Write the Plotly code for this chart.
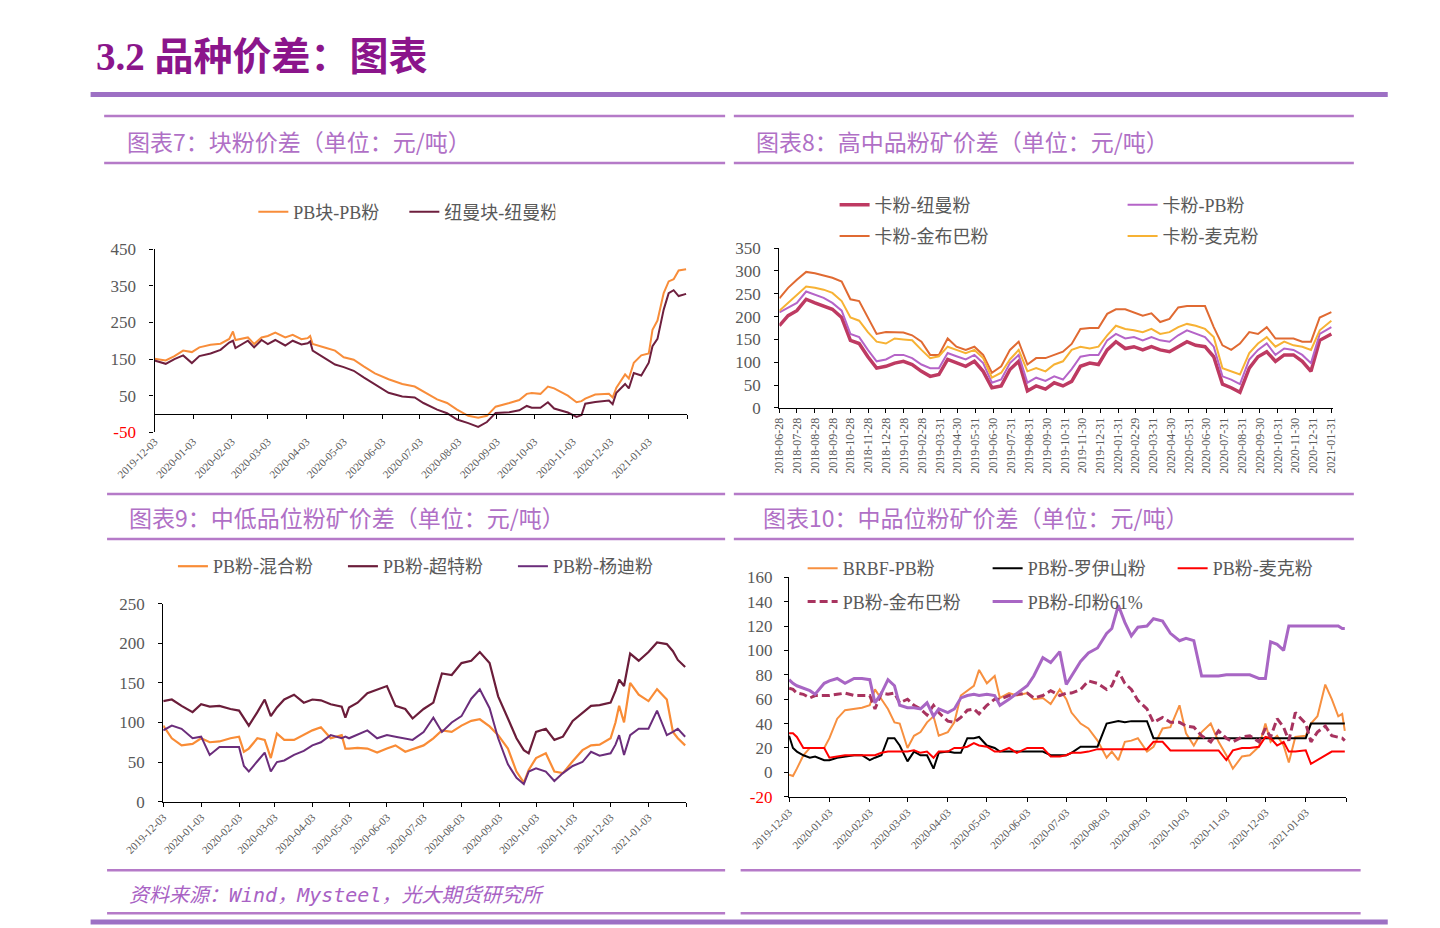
import plotly.graph_objects as go

W, H = 1440, 928


def px(x):
    return x / W


def py(y):
    return 1 - y / H


FONT = "Liberation Serif, Noto Sans CJK SC, serif"
CJK = "Noto Sans CJK SC, sans-serif"
GRAY = "#595959"

# ---------------- Chart 7 : 块粉价差 ----------------
c7_dates = ["2019-12-03", "2019-12-12", "2019-12-19", "2019-12-26", "2020-01-02", "2020-01-08", "2020-01-17",
            "2020-01-25", "2020-02-01", "2020-02-04", "2020-02-06", "2020-02-16", "2020-02-21", "2020-02-27",
            "2020-03-03", "2020-03-09", "2020-03-17", "2020-03-23", "2020-03-30", "2020-04-04", "2020-04-06",
            "2020-04-08", "2020-04-19", "2020-04-26", "2020-05-03", "2020-05-11", "2020-05-19", "2020-05-28",
            "2020-06-08", "2020-06-19", "2020-06-29", "2020-07-06", "2020-07-17", "2020-07-25", "2020-08-02",
            "2020-08-11", "2020-08-19", "2020-08-26", "2020-09-02", "2020-09-13", "2020-09-21", "2020-09-27",
            "2020-10-01", "2020-10-08", "2020-10-14", "2020-10-19", "2020-10-30", "2020-11-06", "2020-11-10",
            "2020-11-13", "2020-11-21", "2020-12-02", "2020-12-05", "2020-12-08", "2020-12-15", "2020-12-18",
            "2020-12-22", "2020-12-28", "2021-01-03", "2021-01-06", "2021-01-10", "2021-01-15", "2021-01-19",
            "2021-01-23", "2021-01-27", "2021-02-02"]
c7_pb_lump = [151, 146, 158, 173, 169, 182, 189, 192, 205, 225, 202, 209, 191, 209, 213, 222, 209, 216, 204, 207,
              213, 191, 180, 173, 155, 148, 130, 111, 95, 82, 75, 62, 40, 30, 12, -5, -10, -5, 20, 30,
              38, 55, 57, 55, 75, 70, 50, 32, 35, 42, 53, 55, 45, 72, 108, 97, 140, 160, 165, 230,
              255, 330, 362, 368, 392, 395]
c7_newman = [146, 137, 150, 160, 139, 158, 165, 175, 195, 200, 180, 200, 182, 202, 191, 202, 187, 200, 190, 193,
             198, 173, 150, 135, 128, 118, 100, 82, 58, 48, 45, 30, 12, 2, -15, -25, -35, -22, 3, 5,
             10, 22, 17, 17, 32, 15, 4, -8, -3, 28, 33, 37, 27, 58, 82, 70, 112, 105, 140, 185,
             205, 285, 330, 338, 322, 328]

# ---------------- Chart 8 : 高中品粉矿价差 ----------------
c8_dates = ["2018-06-28", "2018-07-13", "2018-07-28", "2018-08-13", "2018-08-28", "2018-09-12", "2018-09-27",
            "2018-10-13", "2018-10-28", "2018-11-12", "2018-11-27", "2018-12-12", "2018-12-28", "2019-01-12",
            "2019-01-27", "2019-02-11", "2019-02-27", "2019-03-14", "2019-03-29", "2019-04-13", "2019-04-28",
            "2019-05-14", "2019-05-29", "2019-06-13", "2019-06-28", "2019-07-14", "2019-07-29", "2019-08-13",
            "2019-08-28", "2019-09-12", "2019-09-28", "2019-10-13", "2019-10-28", "2019-11-12", "2019-11-27",
            "2019-12-13", "2019-12-28", "2020-01-12", "2020-01-27", "2020-02-12", "2020-02-27", "2020-03-13",
            "2020-03-28", "2020-04-12", "2020-04-28", "2020-05-13", "2020-05-28", "2020-06-12", "2020-06-28",
            "2020-07-13", "2020-07-28", "2020-08-12", "2020-08-27", "2020-09-12", "2020-09-27", "2020-10-12",
            "2020-10-27", "2020-11-11", "2020-11-27", "2020-12-12", "2020-12-27", "2021-01-11", "2021-01-31"]
c8_newman = [180, 202, 213, 238, 230, 223, 216, 198, 148, 141, 112, 87, 91, 98, 102, 95, 80, 69, 73, 106,
             98, 91, 102, 80, 44, 48, 84, 102, 37, 48, 41, 55, 48, 58, 91, 98, 95, 127, 145, 130,
             134, 127, 134, 127, 123, 134, 145, 137, 134, 112, 52, 44, 34, 87, 112, 123, 102, 116, 116, 102,
             80, 148, 162]
c8_pb = [209, 220, 230, 255, 248, 241, 230, 213, 162, 155, 127, 102, 106, 116, 116, 109, 95, 87, 87, 120,
         113, 106, 116, 98, 55, 62, 98, 116, 55, 66, 59, 69, 62, 85, 112, 116, 116, 148, 162, 152,
         155, 148, 155, 148, 145, 159, 170, 162, 155, 134, 69, 62, 52, 106, 127, 141, 116, 130, 127, 116,
         98, 162, 177]
c8_jimblebar = [240, 263, 281, 298, 295, 290, 285, 277, 238, 234, 198, 162, 166, 166, 165, 159, 145, 116, 116, 152,
                134, 127, 134, 116, 77, 91, 127, 145, 95, 109, 109, 116, 123, 140, 173, 175, 175, 206, 216, 216,
                209, 202, 207, 188, 195, 220, 223, 223, 223, 177, 137, 127, 141, 166, 162, 177, 152, 152, 152, 145,
                145, 198, 210]
c8_mac = [213, 230, 248, 266, 263, 259, 252, 234, 198, 191, 166, 145, 141, 152, 150, 148, 127, 109, 113, 134,
          127, 120, 127, 109, 66, 77, 106, 127, 80, 87, 80, 95, 102, 127, 134, 130, 134, 159, 180, 173,
          170, 166, 173, 162, 166, 177, 184, 180, 173, 155, 87, 80, 73, 120, 141, 155, 134, 145, 137, 134,
          127, 170, 191]
c8_ticks = ["2018-06-28", "2018-07-28", "2018-08-28", "2018-09-28", "2018-10-28", "2018-11-28", "2018-12-28",
            "2019-01-28", "2019-02-28", "2019-03-31", "2019-04-30", "2019-05-31", "2019-06-30", "2019-07-31",
            "2019-08-31", "2019-09-30", "2019-10-31", "2019-11-30", "2019-12-31", "2020-01-31", "2020-02-29",
            "2020-03-31", "2020-04-30", "2020-05-31", "2020-06-30", "2020-07-31", "2020-08-31", "2020-09-30",
            "2020-10-31", "2020-11-30", "2020-12-31", "2021-01-31"]

# ---------------- Chart 9 : 中低品位粉矿价差 ----------------
c9_dates = ["2019-12-03", "2019-12-10", "2019-12-18", "2019-12-27", "2020-01-03", "2020-01-10", "2020-01-18",
            "2020-01-27", "2020-02-03", "2020-02-07", "2020-02-11", "2020-02-18", "2020-02-24", "2020-02-29",
            "2020-03-05", "2020-03-11", "2020-03-19", "2020-03-27", "2020-04-03", "2020-04-10", "2020-04-18",
            "2020-04-27", "2020-04-30", "2020-05-03", "2020-05-10", "2020-05-18", "2020-05-26", "2020-06-03",
            "2020-06-10", "2020-06-18", "2020-06-24", "2020-07-03", "2020-07-11", "2020-07-18", "2020-07-26",
            "2020-08-03", "2020-08-11", "2020-08-18", "2020-08-26", "2020-09-02", "2020-09-10", "2020-09-17",
            "2020-09-23", "2020-09-27", "2020-10-03", "2020-10-11", "2020-10-18", "2020-10-25", "2020-11-02",
            "2020-11-10", "2020-11-17", "2020-11-24", "2020-12-03", "2020-12-07", "2020-12-10", "2020-12-14",
            "2020-12-19", "2020-12-26", "2021-01-03", "2021-01-10", "2021-01-18", "2021-01-23", "2021-01-27",
            "2021-02-02"]
c9_mixed = [96, 80, 71, 73, 80, 75, 76, 80, 82, 63, 67, 80, 78, 55, 86, 78, 78, 84, 90, 94,
            80, 84, 67, 67, 68, 67, 62, 67, 71, 63, 66, 71, 80, 90, 88, 96, 102, 104, 95, 84,
            67, 38, 24, 40, 55, 61, 38, 36, 51, 65, 71, 72, 80, 100, 121, 100, 150, 135, 127, 142,
            129, 88, 80, 71]
c9_super = [127, 129, 121, 113, 123, 120, 121, 117, 115, 105, 96, 113, 129, 108, 119, 129, 135, 125, 129, 128,
            123, 120, 106, 119, 125, 137, 142, 146, 121, 117, 105, 117, 125, 162, 160, 175, 178, 189, 175, 133,
            105, 80, 65, 61, 88, 92, 78, 82, 102, 112, 121, 122, 125, 140, 154, 146, 187, 178, 189, 201,
            199, 190, 179, 170]
c9_yandi = [90, 96, 92, 80, 82, 59, 69, 69, 69, 45, 38, 51, 62, 38, 50, 52, 59, 64, 71, 75,
            84, 80, 82, 80, 85, 90, 80, 84, 82, 80, 78, 88, 106, 88, 100, 108, 130, 142, 118, 80,
            47, 30, 22, 38, 42, 38, 26, 36, 45, 50, 63, 58, 61, 72, 84, 59, 84, 92, 92, 115,
            84, 88, 92, 82]

# ---------------- Chart 10 : 中品位粉矿价差 ----------------
c10_dates = ["2019-12-03", "2019-12-06", "2019-12-09", "2019-12-14", "2019-12-19", "2019-12-23", "2019-12-30",
             "2020-01-03", "2020-01-09", "2020-01-15", "2020-01-22", "2020-01-28", "2020-02-03", "2020-02-07",
             "2020-02-12", "2020-02-17", "2020-02-22", "2020-02-26", "2020-03-03", "2020-03-08", "2020-03-13",
             "2020-03-18", "2020-03-23", "2020-03-27", "2020-04-03", "2020-04-08", "2020-04-13", "2020-04-18",
             "2020-04-23", "2020-04-27", "2020-05-03", "2020-05-09", "2020-05-13", "2020-05-20", "2020-05-26",
             "2020-06-03", "2020-06-08", "2020-06-15", "2020-06-21", "2020-06-28", "2020-07-03", "2020-07-07",
             "2020-07-14", "2020-07-20", "2020-07-27", "2020-08-03", "2020-08-07", "2020-08-12", "2020-08-17",
             "2020-08-22", "2020-08-27", "2020-09-03", "2020-09-08", "2020-09-15", "2020-09-21", "2020-09-28",
             "2020-10-03", "2020-10-09", "2020-10-15", "2020-10-22", "2020-10-28", "2020-11-03", "2020-11-08",
             "2020-11-15", "2020-11-21", "2020-11-28", "2020-12-03", "2020-12-07", "2020-12-12", "2020-12-17",
             "2020-12-21", "2020-12-26", "2021-01-03", "2021-01-07", "2021-01-12", "2021-01-18", "2021-01-23",
             "2021-01-28", "2021-01-31", "2021-02-02"]
c10_brbf = [-2, -3, 3, 14, 20, 20, 20, 28, 44, 51, 52, 53, 55, 68, 60, 52, 41, 40, 20, 30,
            33, 41, 46, 30, 33, 41, 63, 67, 71, 84, 73, 79, 61, 65, 63, 65, 60, 61, 56, 68,
            60, 49, 40, 36, 26, 12, 17, 10, 25, 26, 28, 17, 21, 36, 37, 55, 32, 22, 33, 40,
            25, 14, 3, 13, 14, 21, 40, 25, 30, 22, 8, 29, 30, 40, 46, 72, 60, 46, 48, 34]
c10_roy = [30, 20, 17, 14, 12, 13, 10, 10, 12, 13, 14, 14, 10, 12, 14, 28, 28, 22, 9, 17,
           14, 14, 3, 16, 17, 16, 16, 28, 28, 29, 22, 20, 17, 17, 17, 17, 17, 17, 14, 14,
           14, 16, 21, 21, 21, 40, 41, 42, 41, 42, 42, 42, 28, 28, 28, 28, 28, 28, 28, 28,
           28, 28, 28, 28, 28, 28, 28, 28, 28, 28, 28, 28, 28, 40, 40, 40, 40, 40, 40, 40]
c10_mac = [32, 32, 29, 20, 20, 20, 20, 12, 13, 14, 14, 14, 14, 14, 16, 17, 17, 17, 17, 18,
           16, 17, 12, 17, 17, 20, 20, 21, 24, 22, 21, 17, 17, 20, 16, 20, 20, 20, 13, 13,
           14, 16, 16, 17, 19, 19, 19, 19, 19, 19, 19, 19, 25, 25, 18, 18, 18, 18, 18, 18,
           18, 10, 18, 20, 20, 21, 29, 28, 22, 25, 17, 17, 18, 7, 10, 14, 17, 17, 17, 17]
c10_jimblebar = [69, 68, 65, 64, 61, 63, 63, 63, 64, 65, 63, 63, 63, 52, 65, 64, 65, 57, 60, 55,
                 52, 47, 55, 49, 42, 41, 45, 51, 52, 48, 55, 60, 60, 63, 64, 65, 61, 63, 67, 63,
                 65, 65, 68, 75, 73, 68, 71, 83, 73, 68, 59, 52, 41, 45, 41, 41, 38, 37, 30, 25,
                 34, 28, 25, 29, 30, 25, 36, 29, 44, 37, 26, 49, 40, 25, 33, 38, 30, 29, 28, 26]
c10_india61 = [76, 73, 71, 69, 67, 64, 73, 75, 77, 73, 77, 77, 76, 57, 65, 76, 71, 55, 53, 53,
               52, 57, 46, 52, 49, 52, 61, 63, 64, 63, 64, 63, 55, 60, 65, 71, 79, 94, 90, 99,
               72, 79, 91, 98, 102, 114, 118, 137, 123, 112, 119, 120, 126, 124, 114, 108, 110, 108, 79, 79,
               79, 80, 80, 80, 80, 77, 77, 107, 105, 100, 120, 120, 120, 120, 120, 120, 120, 120, 118, 118]

month_ticks = ["2019-12-03", "2020-01-03", "2020-02-03", "2020-03-03", "2020-04-03", "2020-05-03", "2020-06-03",
               "2020-07-03", "2020-08-03", "2020-09-03", "2020-10-03", "2020-11-03", "2020-12-03", "2021-01-03",
               "2021-02-03"]
month_labels = month_ticks[:-1] + [""]

fig = go.Figure()


def line(x, y, name, color, width, xa, ya, legend, dash=None):
    fig.add_trace(go.Scatter(x=x, y=y, name=name, mode="lines", xaxis=xa, yaxis=ya, legend=legend,
                             line=dict(color=color, width=width, dash=dash), hoverinfo="skip"))


# chart 7
line(c7_dates, c7_pb_lump, "PB块-PB粉", "#F88D3A", 2, "x", "y", "legend")
line(c7_dates, c7_newman, "纽曼块-纽曼粉", "#6E1F3E", 2, "x", "y", "legend")
fig.add_trace(go.Scatter(x=[], y=[], xaxis="x5", yaxis="y", showlegend=False, hoverinfo="skip"))
# chart 8
line(c8_dates, c8_newman, "卡粉-纽曼粉", "#BE3A62", 3.5, "x2", "y2", "legend2")
line(c8_dates, c8_pb, "卡粉-PB粉", "#B564C8", 2, "x2", "y2", "legend2")
line(c8_dates, c8_jimblebar, "卡粉-金布巴粉", "#E06A32", 2, "x2", "y2", "legend3")
line(c8_dates, c8_mac, "卡粉-麦克粉", "#F7B234", 2, "x2", "y2", "legend3")
# chart 9
line(c9_dates, c9_mixed, "PB粉-混合粉", "#F98C36", 2.2, "x3", "y3", "legend4")
line(c9_dates, c9_super, "PB粉-超特粉", "#6B1D3A", 2.2, "x3", "y3", "legend4")
line(c9_dates, c9_yandi, "PB粉-杨迪粉", "#6B2D7B", 2, "x3", "y3", "legend4")
# chart 10
line(c10_dates, c10_brbf, "BRBF-PB粉", "#F79040", 2, "x4", "y4", "legend5")
line(c10_dates, c10_roy, "PB粉-罗伊山粉", "#000000", 2, "x4", "y4", "legend5")
line(c10_dates, c10_mac, "PB粉-麦克粉", "#FF0000", 2, "x4", "y4", "legend5")
line(c10_dates, c10_jimblebar, "PB粉-金布巴粉", "#A8335F", 3, "x4", "y4", "legend6", dash="8px,4px")
line(c10_dates, c10_india61, "PB粉-印粉61%", "#A866C4", 3, "x4", "y4", "legend6")

axis_common = dict(showgrid=False, zeroline=False, linecolor="#000000", linewidth=1.3,
                   tickcolor="#000000", ticklen=4, ticks="outside")
ytick_font = dict(family=FONT, size=17, color=GRAY)
xtick_font = dict(family=FONT, size=11, color=GRAY)
x8tick_font = dict(family=FONT, size=12, color=GRAY)

# chart 7 axes
c7_y0, c7_y1 = py(424), py(237)
fig.update_layout(
    xaxis=dict(domain=[px(111), px(661)], anchor="y", type="date", range=["2019-12-03", "2021-02-03"],
               tickmode="array", tickvals=month_ticks, ticktext=month_labels, tickangle=-45,
               tickfont=xtick_font, showline=False, ticks="", showgrid=False, zeroline=False),
    xaxis5=dict(overlaying="x", anchor="free", position=c7_y0 + (c7_y1 - c7_y0) * 50 / 500, type="date",
                range=["2019-12-03", "2021-02-03"], tickmode="array", tickvals=month_ticks,
                showticklabels=False, showline=True, **axis_common),
    yaxis=dict(domain=[c7_y0, c7_y1], anchor="x", range=[-50, 450], tickmode="array",
               tickvals=[-50, 50, 150, 250, 350, 450],
               ticktext=['<span style="color:#FF0000">-50</span>', "50", "150", "250", "350", "450"],
               tickfont=ytick_font, ticklabelstandoff=10, showline=True, **axis_common),
    xaxis2=dict(domain=[px(756), px(1327)], anchor="y2", type="date", range=["2018-06-28", "2021-02-02"],
                tickmode="array", tickvals=c8_ticks, ticktext=c8_ticks, tickangle=-90, tickfont=x8tick_font,
                showline=True, **axis_common),
    yaxis2=dict(domain=[py(399), py(236)], anchor="x2", range=[0, 350], dtick=50, tickfont=ytick_font,
                ticklabelstandoff=10, showline=True, **axis_common),
    xaxis3=dict(domain=[px(120), px(660)], anchor="y3", type="date", range=["2019-12-03", "2021-02-03"],
                tickmode="array", tickvals=month_ticks, ticktext=month_labels, tickangle=-45,
                tickfont=xtick_font, showline=True, **axis_common),
    yaxis3=dict(domain=[py(801), py(599)], anchor="x3", range=[0, 250], dtick=50, tickfont=ytick_font,
                ticklabelstandoff=10, showline=True, **axis_common),
    xaxis4=dict(domain=[px(766), px(1341)], anchor="y4", type="date", range=["2019-12-03", "2021-02-03"],
                tickmode="array", tickvals=month_ticks, ticktext=month_labels, tickangle=-45,
                tickfont=xtick_font, showline=True, **axis_common),
    yaxis4=dict(domain=[py(796), py(572)], anchor="x4", range=[-20, 160], tickmode="array",
                tickvals=[-20, 0, 20, 40, 60, 80, 100, 120, 140, 160],
                ticktext=['<span style="color:#FF0000">-20</span>', "0", "20", "40", "60", "80", "100", "120",
                          "140", "160"],
                tickfont=ytick_font, ticklabelstandoff=8, showline=True, **axis_common),
)

leg_common = dict(orientation="h", xanchor="left", yanchor="middle", bgcolor="rgba(0,0,0,0)",
                  font=dict(family=FONT, size=18, color=GRAY), entrywidthmode="pixels",
                  traceorder="normal", itemclick=False, itemdoubleclick=False)
fig.update_layout(
    legend=dict(x=px(213), y=py(199), entrywidth=106, **leg_common),
    legend2=dict(x=px(813), y=py(192), entrywidth=243, **leg_common),
    legend3=dict(x=px(813), y=py(224), entrywidth=243, **leg_common),
    legend4=dict(x=px(130), y=py(561), entrywidth=125, **leg_common),
    legend5=dict(x=px(780), y=py(563), entrywidth=140, **leg_common),
    legend6=dict(x=px(780), y=py(597), entrywidth=140, **leg_common),
)

# decorative frame lines
PANEL = "#B57AC8"
shapes = [dict(type="line", xref="paper", yref="paper", x0=px(45), x1=px(1384), y0=py(79), y1=py(79),
               line=dict(color="#9D70C4", width=5))]
for (xa, xb, yy) in [(59, 700, 101), (59, 700, 149), (709, 1349, 101), (709, 1349, 149),
                     (62, 700, 487), (62, 700, 533), (709, 1349, 487), (709, 1349, 533),
                     (62, 700, 871), (62, 700, 915), (716, 1356, 871), (716, 1356, 915)]:
    shapes.append(dict(type="line", xref="paper", yref="paper", x0=px(xa), x1=px(xb), y0=py(yy), y1=py(yy),
                       line=dict(color=PANEL, width=2.5)))
shapes.append(dict(type="line", xref="paper", yref="paper", x0=px(45), x1=px(1384), y0=py(924), y1=py(924),
                   line=dict(color="#9D70C4", width=5)))

TITLE_C = "#B070C6"
annotations = [
    dict(text="<b>3.2 品种价差：图表</b>", x=px(48), y=py(40), font=dict(family=FONT, size=39, color="#8B158B")),
    dict(text="图表7：块粉价差（单位：元/吨）", x=px(80), y=py(127), font=dict(family=CJK, size=23, color=TITLE_C)),
    dict(text="图表8：高中品粉矿价差（单位：元/吨）", x=px(730), y=py(127), font=dict(family=CJK, size=23, color=TITLE_C)),
    dict(text="图表9：中低品位粉矿价差（单位：元/吨）", x=px(83), y=py(510), font=dict(family=CJK, size=23, color=TITLE_C)),
    dict(text="图表10：中品位粉矿价差（单位：元/吨）", x=px(737), y=py(510), font=dict(family=CJK, size=23, color=TITLE_C)),
    dict(text="<i>资料来源：Wind，Mysteel，光大期货研究所</i>", x=px(83), y=py(896),
         font=dict(family="DejaVu Sans Mono, Noto Sans CJK SC", size=20, color="#A862C4")),
]
for a in annotations:
    a.update(xref="paper", yref="paper", xanchor="left", yanchor="middle", showarrow=False)

fig.update_layout(width=W, height=H, margin=dict(l=0, r=0, t=0, b=0), autosize=False,
                  paper_bgcolor="white", plot_bgcolor="white", shapes=shapes, annotations=annotations,
                  hovermode=False)

fig.write_html("out.html")
